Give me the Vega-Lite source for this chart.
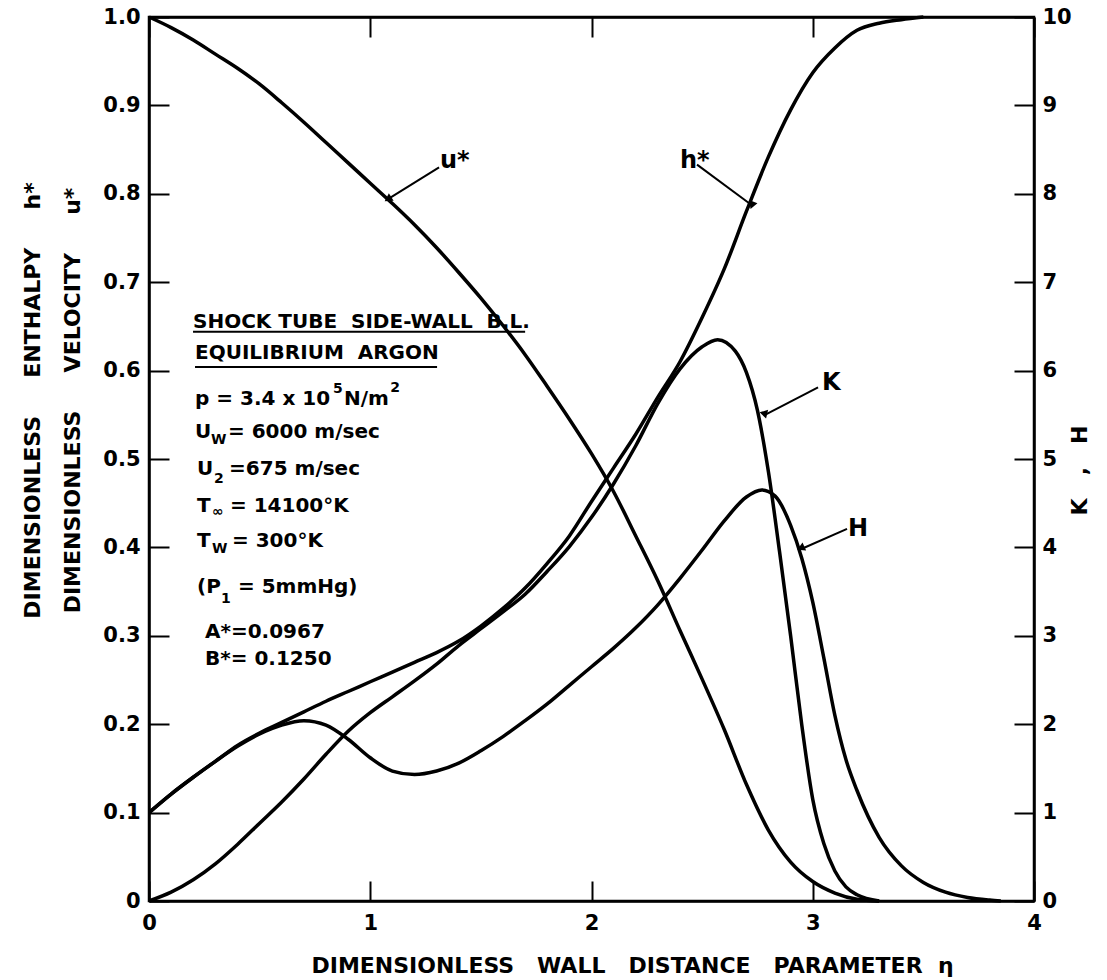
{
  "$schema": "https://vega.github.io/schema/vega-lite/v6.json",
  "width": 885,
  "height": 884,
  "autosize": {"type": "none"},
  "padding": {"left": 149, "top": 17, "right": 73, "bottom": 79},
  "background": "white",
  "config": {
    "font": "DejaVu Sans",
    "view": {"stroke": "black", "strokeWidth": 2.5},
    "axis": {
      "grid": false,
      "domainColor": "black",
      "domainWidth": 2.5,
      "tickColor": "black",
      "tickWidth": 2,
      "labelFont": "DejaVu Sans",
      "labelFontWeight": "bold",
      "labelFontSize": 21,
      "labelColor": "black",
      "titleFont": "DejaVu Sans",
      "titleFontWeight": "bold",
      "titleFontSize": 22,
      "titleColor": "black"
    }
  },
  "datasets": {
    "left": [
      {"eta": 0.0, "v": 1.0, "s": "u"}, {"eta": 0.1, "v": 0.988, "s": "u"}, {"eta": 0.2, "v": 0.974, "s": "u"},
      {"eta": 0.3, "v": 0.958, "s": "u"}, {"eta": 0.4, "v": 0.942, "s": "u"}, {"eta": 0.5, "v": 0.924, "s": "u"},
      {"eta": 0.6, "v": 0.903, "s": "u"}, {"eta": 0.7, "v": 0.881, "s": "u"}, {"eta": 0.8, "v": 0.858, "s": "u"},
      {"eta": 0.9, "v": 0.835, "s": "u"}, {"eta": 1.0, "v": 0.812, "s": "u"}, {"eta": 1.1, "v": 0.789, "s": "u"},
      {"eta": 1.2, "v": 0.765, "s": "u"}, {"eta": 1.3, "v": 0.739, "s": "u"}, {"eta": 1.4, "v": 0.711, "s": "u"},
      {"eta": 1.5, "v": 0.682, "s": "u"}, {"eta": 1.6, "v": 0.651, "s": "u"}, {"eta": 1.7, "v": 0.618, "s": "u"},
      {"eta": 1.8, "v": 0.582, "s": "u"}, {"eta": 1.9, "v": 0.545, "s": "u"}, {"eta": 2.0, "v": 0.506, "s": "u"},
      {"eta": 2.1, "v": 0.463, "s": "u"}, {"eta": 2.2, "v": 0.413, "s": "u"}, {"eta": 2.3, "v": 0.362, "s": "u"},
      {"eta": 2.4, "v": 0.306, "s": "u"}, {"eta": 2.5, "v": 0.251, "s": "u"}, {"eta": 2.6, "v": 0.194, "s": "u"},
      {"eta": 2.7, "v": 0.132, "s": "u"}, {"eta": 2.8, "v": 0.08, "s": "u"}, {"eta": 2.9, "v": 0.044, "s": "u"},
      {"eta": 3.0, "v": 0.022, "s": "u"}, {"eta": 3.1, "v": 0.009, "s": "u"}, {"eta": 3.2, "v": 0.002, "s": "u"},
      {"eta": 3.3, "v": 0.0, "s": "u"},
      {"eta": 0.0, "v": 0.1, "s": "h"}, {"eta": 0.1, "v": 0.121, "s": "h"}, {"eta": 0.2, "v": 0.14, "s": "h"},
      {"eta": 0.3, "v": 0.158, "s": "h"}, {"eta": 0.4, "v": 0.176, "s": "h"}, {"eta": 0.5, "v": 0.19, "s": "h"},
      {"eta": 0.6, "v": 0.202, "s": "h"}, {"eta": 0.7, "v": 0.214, "s": "h"}, {"eta": 0.8, "v": 0.226, "s": "h"},
      {"eta": 0.9, "v": 0.237, "s": "h"}, {"eta": 1.0, "v": 0.248, "s": "h"}, {"eta": 1.1, "v": 0.259, "s": "h"},
      {"eta": 1.2, "v": 0.27, "s": "h"}, {"eta": 1.3, "v": 0.281, "s": "h"}, {"eta": 1.4, "v": 0.294, "s": "h"},
      {"eta": 1.5, "v": 0.311, "s": "h"}, {"eta": 1.6, "v": 0.331, "s": "h"}, {"eta": 1.7, "v": 0.354, "s": "h"},
      {"eta": 1.8, "v": 0.382, "s": "h"}, {"eta": 1.9, "v": 0.413, "s": "h"}, {"eta": 2.0, "v": 0.452, "s": "h"},
      {"eta": 2.1, "v": 0.49, "s": "h"}, {"eta": 2.2, "v": 0.528, "s": "h"}, {"eta": 2.3, "v": 0.57, "s": "h"},
      {"eta": 2.4, "v": 0.61, "s": "h"}, {"eta": 2.5, "v": 0.66, "s": "h"}, {"eta": 2.6, "v": 0.715, "s": "h"},
      {"eta": 2.7, "v": 0.78, "s": "h"}, {"eta": 2.8, "v": 0.842, "s": "h"}, {"eta": 2.9, "v": 0.895, "s": "h"},
      {"eta": 3.0, "v": 0.937, "s": "h"}, {"eta": 3.1, "v": 0.965, "s": "h"}, {"eta": 3.2, "v": 0.985, "s": "h"},
      {"eta": 3.3, "v": 0.993, "s": "h"}, {"eta": 3.4, "v": 0.997, "s": "h"}, {"eta": 3.5, "v": 1.0, "s": "h"}
    ],
    "right": [
      {"eta": 0.0, "v": 0.0, "s": "K"}, {"eta": 0.1, "v": 0.1, "s": "K"}, {"eta": 0.2, "v": 0.24, "s": "K"},
      {"eta": 0.3, "v": 0.42, "s": "K"}, {"eta": 0.4, "v": 0.64, "s": "K"}, {"eta": 0.5, "v": 0.88, "s": "K"},
      {"eta": 0.6, "v": 1.12, "s": "K"}, {"eta": 0.7, "v": 1.38, "s": "K"}, {"eta": 0.8, "v": 1.66, "s": "K"},
      {"eta": 0.9, "v": 1.92, "s": "K"}, {"eta": 1.0, "v": 2.13, "s": "K"}, {"eta": 1.1, "v": 2.31, "s": "K"},
      {"eta": 1.2, "v": 2.49, "s": "K"}, {"eta": 1.3, "v": 2.68, "s": "K"}, {"eta": 1.4, "v": 2.89, "s": "K"},
      {"eta": 1.5, "v": 3.08, "s": "K"}, {"eta": 1.6, "v": 3.27, "s": "K"}, {"eta": 1.7, "v": 3.47, "s": "K"},
      {"eta": 1.8, "v": 3.73, "s": "K"}, {"eta": 1.9, "v": 4.01, "s": "K"}, {"eta": 2.0, "v": 4.34, "s": "K"},
      {"eta": 2.1, "v": 4.72, "s": "K"}, {"eta": 2.2, "v": 5.15, "s": "K"}, {"eta": 2.3, "v": 5.63, "s": "K"},
      {"eta": 2.4, "v": 6.02, "s": "K"}, {"eta": 2.5, "v": 6.27, "s": "K"}, {"eta": 2.57, "v": 6.35, "s": "K"},
      {"eta": 2.65, "v": 6.22, "s": "K"}, {"eta": 2.7, "v": 5.98, "s": "K"}, {"eta": 2.75, "v": 5.55, "s": "K"},
      {"eta": 2.8, "v": 4.85, "s": "K"}, {"eta": 2.85, "v": 3.95, "s": "K"}, {"eta": 2.9, "v": 3.0, "s": "K"},
      {"eta": 2.95, "v": 2.0, "s": "K"}, {"eta": 3.0, "v": 1.15, "s": "K"}, {"eta": 3.05, "v": 0.65, "s": "K"},
      {"eta": 3.1, "v": 0.34, "s": "K"}, {"eta": 3.15, "v": 0.16, "s": "K"}, {"eta": 3.2, "v": 0.07, "s": "K"},
      {"eta": 3.3, "v": 0.0, "s": "K"},
      {"eta": 0.0, "v": 1.0, "s": "H"}, {"eta": 0.1, "v": 1.21, "s": "H"}, {"eta": 0.2, "v": 1.4, "s": "H"},
      {"eta": 0.3, "v": 1.58, "s": "H"}, {"eta": 0.4, "v": 1.75, "s": "H"}, {"eta": 0.5, "v": 1.89, "s": "H"},
      {"eta": 0.6, "v": 1.99, "s": "H"}, {"eta": 0.7, "v": 2.04, "s": "H"}, {"eta": 0.8, "v": 1.99, "s": "H"},
      {"eta": 0.9, "v": 1.83, "s": "H"}, {"eta": 1.0, "v": 1.62, "s": "H"}, {"eta": 1.1, "v": 1.47, "s": "H"},
      {"eta": 1.2, "v": 1.43, "s": "H"}, {"eta": 1.3, "v": 1.47, "s": "H"}, {"eta": 1.4, "v": 1.56, "s": "H"},
      {"eta": 1.5, "v": 1.7, "s": "H"}, {"eta": 1.6, "v": 1.86, "s": "H"}, {"eta": 1.7, "v": 2.04, "s": "H"},
      {"eta": 1.8, "v": 2.23, "s": "H"}, {"eta": 1.9, "v": 2.44, "s": "H"}, {"eta": 2.0, "v": 2.65, "s": "H"},
      {"eta": 2.1, "v": 2.86, "s": "H"}, {"eta": 2.2, "v": 3.09, "s": "H"}, {"eta": 2.3, "v": 3.35, "s": "H"},
      {"eta": 2.4, "v": 3.65, "s": "H"}, {"eta": 2.5, "v": 3.97, "s": "H"}, {"eta": 2.6, "v": 4.3, "s": "H"},
      {"eta": 2.7, "v": 4.57, "s": "H"}, {"eta": 2.77, "v": 4.65, "s": "H"}, {"eta": 2.83, "v": 4.58, "s": "H"},
      {"eta": 2.9, "v": 4.25, "s": "H"}, {"eta": 2.95, "v": 3.88, "s": "H"}, {"eta": 3.0, "v": 3.38, "s": "H"},
      {"eta": 3.05, "v": 2.75, "s": "H"}, {"eta": 3.1, "v": 2.1, "s": "H"}, {"eta": 3.15, "v": 1.6, "s": "H"},
      {"eta": 3.2, "v": 1.25, "s": "H"}, {"eta": 3.3, "v": 0.72, "s": "H"}, {"eta": 3.4, "v": 0.4, "s": "H"},
      {"eta": 3.5, "v": 0.21, "s": "H"}, {"eta": 3.6, "v": 0.1, "s": "H"}, {"eta": 3.7, "v": 0.04, "s": "H"},
      {"eta": 3.8, "v": 0.01, "s": "H"}, {"eta": 3.85, "v": 0.0, "s": "H"}
    ],
    "rules": [
      {"x": 1.311, "y": 0.830, "x2": 1.08, "y2": 0.794},
      {"x": 2.477, "y": 0.833, "x2": 2.725, "y2": 0.787},
      {"x": 3.024, "y": 0.581, "x2": 2.784, "y2": 0.55},
      {"x": 3.155, "y": 0.421, "x2": 2.956, "y2": 0.399},
      {"x": 0.199, "y": 0.644, "x2": 1.7, "y2": 0.644},
      {"x": 0.208, "y": 0.604, "x2": 1.302, "y2": 0.604}
    ],
    "heads": [
      {"x": 1.08, "y": 0.794, "label": "u"},
      {"x": 2.725, "y": 0.787, "label": "h"},
      {"x": 2.784, "y": 0.55, "label": "K"},
      {"x": 2.956, "y": 0.399, "label": "H"}
    ],
    "curvelabels": [
      {"x": 1.315, "y": 0.829, "t": "u*"},
      {"x": 2.4, "y": 0.829, "t": "h*"},
      {"x": 3.042, "y": 0.578, "t": "K"},
      {"x": 3.159, "y": 0.413, "t": "H"}
    ],
    "notes": [
      {"x": 0.199, "y": 0.648, "t": "SHOCK TUBE\u00a0\u00a0SIDE-WALL\u00a0\u00a0B.L."},
      {"x": 0.208, "y": 0.613, "t": "EQUILIBRIUM\u00a0\u00a0ARGON"},
      {"x": 0.208, "y": 0.561, "t": "p = 3.4 x 10"},
      {"x": 0.881, "y": 0.561, "t": "N/m"},
      {"x": 0.208, "y": 0.524, "t": "U"},
      {"x": 0.357, "y": 0.524, "t": "= 6000 m/sec"},
      {"x": 0.217, "y": 0.482, "t": "U"},
      {"x": 0.362, "y": 0.482, "t": "=675 m/sec"},
      {"x": 0.217, "y": 0.44, "t": "T"},
      {"x": 0.366, "y": 0.44, "t": "= 14100°K"},
      {"x": 0.217, "y": 0.4, "t": "T"},
      {"x": 0.375, "y": 0.4, "t": "= 300°K"},
      {"x": 0.217, "y": 0.348, "t": "(P"},
      {"x": 0.402, "y": 0.348, "t": "= 5mmHg)"},
      {"x": 0.253, "y": 0.2975, "t": "A*=0.0967"},
      {"x": 0.253, "y": 0.267, "t": "B*= 0.1250"}
    ],
    "subs": [
      {"x": 0.280, "y": 0.517, "t": "W"},
      {"x": 0.294, "y": 0.473, "t": "2"},
      {"x": 0.285, "y": 0.435, "t": "∞"},
      {"x": 0.285, "y": 0.394, "t": "W"},
      {"x": 0.325, "y": 0.337, "t": "1"},
      {"x": 0.832, "y": 0.575, "t": "5"},
      {"x": 1.09, "y": 0.576, "t": "2"}
    ]
  },
  "layer": [
    {
      "data": {"name": "left"},
      "mark": {"type": "line", "color": "black", "strokeWidth": 3.5, "interpolate": "monotone"},
      "encoding": {
        "x": {
          "field": "eta", "type": "quantitative",
          "scale": {"domain": [0, 4], "nice": false},
          "axis": {
            "orient": "bottom", "values": [0, 1, 2, 3, 4], "format": "d",
            "tickSize": -20, "labelPadding": 31, "labelFlush": false,
            "title": "DIMENSIONLESS\u00a0\u00a0\u00a0WALL\u00a0\u00a0\u00a0DISTANCE\u00a0\u00a0\u00a0PARAMETER\u00a0\u00a0η",
            "titlePadding": 22, "titleX": 483, "titleAnchor": "start", "titleAlign": "center"
          }
        },
        "y": {
          "field": "v", "type": "quantitative",
          "scale": {"domain": [0, 1], "nice": false},
          "axis": {
            "orient": "left",
            "values": [0, 0.1, 0.2, 0.3, 0.4, 0.5, 0.6, 0.7, 0.8, 0.9, 1.0],
            "labelExpr": "datum.value == 0 ? '0' : format(datum.value, '.1f')",
            "tickSize": -20, "labelPadding": 29, "labelFlush": false,
            "title": ["DIMENSIONLESS\u00a0\u00a0\u00a0\u00a0\u00a0ENTHALPY\u00a0\u00a0\u00a0\u00a0\u00a0h*", "DIMENSIONLESS\u00a0\u00a0\u00a0\u00a0\u00a0VELOCITY\u00a0\u00a0\u00a0\u00a0\u00a0u*"],
            "titleLineHeight": 40, "titlePadding": 18, "titleY": 383
          }
        },
        "detail": {"field": "s", "type": "nominal"}
      }
    },
    {
      "data": {"name": "right"},
      "mark": {"type": "line", "color": "black", "strokeWidth": 3.5, "interpolate": "monotone"},
      "encoding": {
        "x": {
          "field": "eta", "type": "quantitative",
          "scale": {"domain": [0, 4], "nice": false},
          "axis": {"orient": "top", "values": [0, 1, 2, 3, 4], "labels": false, "title": null, "tickSize": -20}
        },
        "y": {
          "field": "v", "type": "quantitative",
          "scale": {"domain": [0, 10], "nice": false},
          "axis": {
            "orient": "right", "values": [0, 1, 2, 3, 4, 5, 6, 7, 8, 9, 10], "format": "d",
            "tickSize": -20, "labelPadding": 28, "labelFlush": false,
            "title": "K\u00a0\u00a0\u00a0,\u00a0\u00a0\u00a0H", "titleAngle": 270, "titlePadding": 20, "titleY": 453
          }
        },
        "detail": {"field": "s", "type": "nominal"}
      }
    },
    {
      "data": {"name": "rules"},
      "mark": {"type": "rule", "color": "black", "strokeWidth": 2},
      "encoding": {
        "x": {"field": "x", "type": "quantitative", "scale": {"domain": [0, 4], "nice": false}, "axis": null},
        "y": {"field": "y", "type": "quantitative", "scale": {"domain": [0, 1], "nice": false}, "axis": null},
        "x2": {"field": "x2"},
        "y2": {"field": "y2"}
      }
    },
    {
      "data": {"name": "heads"},
      "mark": {"type": "point", "shape": "triangle-up", "filled": true, "color": "black", "opacity": 1, "size": 80},
      "encoding": {
        "x": {"field": "x", "type": "quantitative", "scale": {"domain": [0, 4], "nice": false}, "axis": null},
        "y": {"field": "y", "type": "quantitative", "scale": {"domain": [0, 1], "nice": false}, "axis": null},
        "angle": {"field": "label", "type": "nominal", "scale": {"domain": ["u", "h", "K", "H"], "range": [238, 126, 242, 247]}, "legend": null}
      }
    },
    {
      "data": {"name": "curvelabels"},
      "mark": {"type": "text", "font": "DejaVu Sans", "fontWeight": "bold", "fontSize": 24, "align": "left", "baseline": "alphabetic", "color": "black"},
      "encoding": {
        "x": {"field": "x", "type": "quantitative", "scale": {"domain": [0, 4], "nice": false}, "axis": null},
        "y": {"field": "y", "type": "quantitative", "scale": {"domain": [0, 1], "nice": false}, "axis": null},
        "text": {"field": "t"}
      }
    },
    {
      "data": {"name": "notes"},
      "mark": {"type": "text", "font": "DejaVu Sans", "fontWeight": "bold", "fontSize": 20, "align": "left", "baseline": "alphabetic", "color": "black"},
      "encoding": {
        "x": {"field": "x", "type": "quantitative", "scale": {"domain": [0, 4], "nice": false}, "axis": null},
        "y": {"field": "y", "type": "quantitative", "scale": {"domain": [0, 1], "nice": false}, "axis": null},
        "text": {"field": "t"}
      }
    },
    {
      "data": {"name": "subs"},
      "mark": {"type": "text", "font": "DejaVu Sans", "fontWeight": "bold", "fontSize": 14, "align": "left", "baseline": "alphabetic", "color": "black"},
      "encoding": {
        "x": {"field": "x", "type": "quantitative", "scale": {"domain": [0, 4], "nice": false}, "axis": null},
        "y": {"field": "y", "type": "quantitative", "scale": {"domain": [0, 1], "nice": false}, "axis": null},
        "text": {"field": "t"}
      }
    }
  ],
  "resolve": {"scale": {"y": "independent", "angle": "independent"}, "axis": {"x": "independent", "y": "independent"}}
}
